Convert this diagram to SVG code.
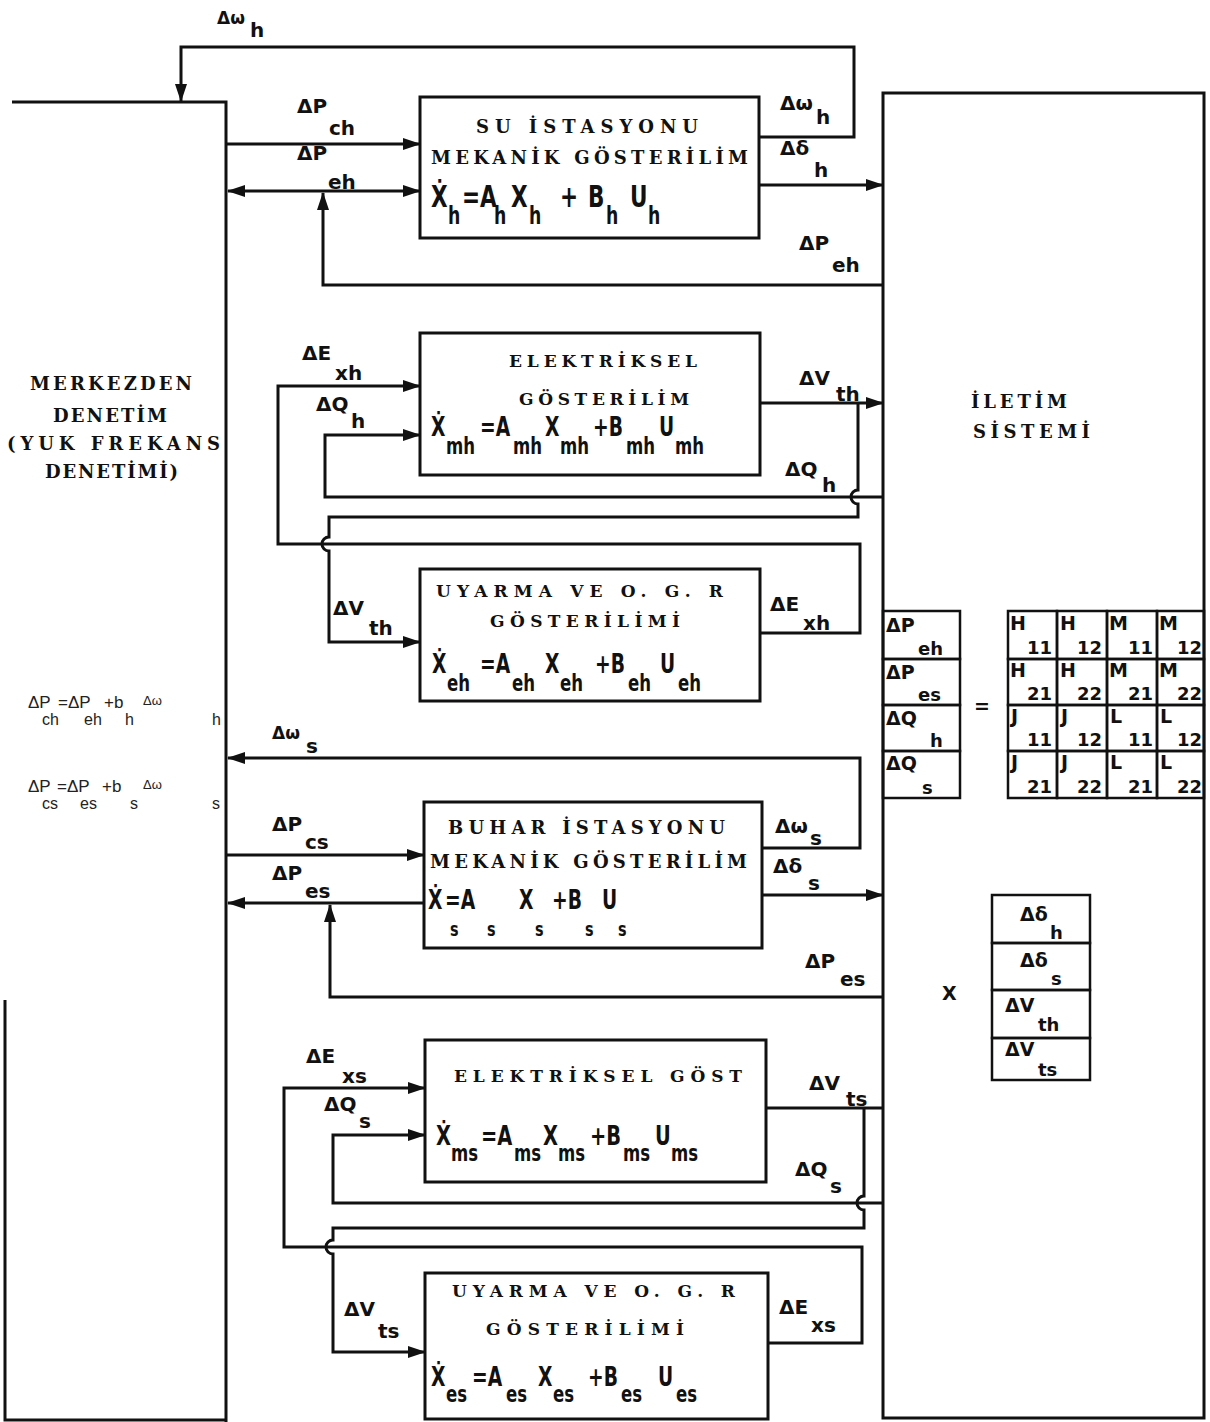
<svg xmlns="http://www.w3.org/2000/svg" width="1210" height="1422" viewBox="0 0 1210 1422">
<defs>
<marker id="ah" viewBox="0 0 18 12" refX="17" refY="6" markerWidth="18" markerHeight="12" markerUnits="userSpaceOnUse" orient="auto-start-reverse">
<path d="M0,0 L18,6 L0,12 z" fill="#111"/>
</marker>
<style>
.box{fill:none;stroke:#111;stroke-width:3}
.ln{fill:none;stroke:#111;stroke-width:3;stroke-linejoin:miter}
.cell{fill:none;stroke:#111;stroke-width:2.5}
.t{font-family:"DejaVu Serif","Liberation Serif",serif;font-weight:bold;font-size:17px;fill:#111}
.tb{font-size:18px}
.tl{font-size:18px}
.lb{font-family:"DejaVu Sans","Liberation Sans",sans-serif;font-weight:bold;font-size:20px;fill:#111}
.eq{font-family:"DejaVu Sans","Liberation Sans",sans-serif;font-weight:bold;font-size:26px;fill:#111}
.sb{font-size:23px}
.le{font-family:"Liberation Sans","DejaVu Sans",sans-serif;font-size:17px;fill:#222}
.le2{font-size:13px}
.ls{font-size:16px}
.mx{font-family:"DejaVu Sans","Liberation Sans",sans-serif;font-weight:bold;font-size:19px;fill:#111}
.mxs{font-size:18px}
</style>
</defs>
<rect width="1210" height="1422" fill="#fff"/>

<g id="merkezden-denetim">
<path class="ln" d="M12,102 H226 V1422"/>
<path class="ln" d="M5,1000 V1420 H226"/>
<text class="t tl" x="30" y="390" textLength="162" lengthAdjust="spacing">MERKEZDEN</text>
<text class="t tl" x="53" y="422" textLength="114" lengthAdjust="spacing">DENETİM</text>
<text class="t tl" x="7" y="450" textLength="213" lengthAdjust="spacing">(YUK FREKANS</text>
<text class="t tl" x="45" y="478" textLength="133" lengthAdjust="spacing">DENETİMİ)</text>
<text class="le"><tspan x="28" y="708">ΔP</tspan><tspan class="ls" x="42" y="725">ch</tspan><tspan x="58" y="708">=ΔP</tspan><tspan class="ls" x="84" y="725">eh</tspan><tspan x="104" y="708">+b</tspan><tspan class="ls" x="125" y="725">h</tspan><tspan class="le2" x="143" y="705">Δω</tspan><tspan class="ls" x="212" y="725">h</tspan></text>
<text class="le"><tspan x="28" y="792">ΔP</tspan><tspan class="ls" x="42" y="809">cs</tspan><tspan x="57" y="792">=ΔP</tspan><tspan class="ls" x="80" y="809">es</tspan><tspan x="102" y="792">+b</tspan><tspan class="ls" x="130" y="809">s</tspan><tspan class="le2" x="143" y="789">Δω</tspan><tspan class="ls" x="212" y="809">s</tspan></text>
</g>

<g id="iletim-sistemi">
<rect class="box" x="883" y="93" width="321" height="1325"/>
<text class="t tl" x="971" y="408" textLength="96" lengthAdjust="spacing">İLETİM</text>
<text class="t tl" x="973" y="438" textLength="117" lengthAdjust="spacing">SİSTEMİ</text>
</g>

<g id="su-istasyonu">
<rect class="box" x="420" y="97" width="339" height="141"/>
<text class="t tb" x="476" y="133" textLength="222" lengthAdjust="spacing">SU İSTASYONU</text>
<text class="t tb" x="431" y="164" textLength="317" lengthAdjust="spacing">MEKANİK GÖSTERİLİM</text>
<text class="eq" style="font-size:30px" transform="translate(431,0) scale(0.72,1)"><tspan x="0" y="207">Ẋ</tspan><tspan style="font-size:24px" x="23.6" y="224">h</tspan><tspan x="43.1" y="207">=A</tspan><tspan style="font-size:24px" x="87.5" y="224">h</tspan><tspan x="111.1" y="207">X</tspan><tspan style="font-size:24px" x="136.1" y="224">h</tspan><tspan x="179.2" y="207">+</tspan><tspan x="218.1" y="207">B</tspan><tspan style="font-size:24px" x="243.1" y="224">h</tspan><tspan x="276.4" y="207">U</tspan><tspan style="font-size:24px" x="301.4" y="224">h</tspan></text>
</g>

<g id="elektriksel-h">
<rect class="box" x="420" y="333" width="340" height="142"/>
<text class="t" x="509" y="367" textLength="188" lengthAdjust="spacing">ELEKTRİKSEL</text>
<text class="t" x="519" y="405" textLength="170" lengthAdjust="spacing">GÖSTERİLİM</text>
<text class="eq" transform="translate(431,0) scale(0.72,1)"><tspan x="0" y="436">Ẋ</tspan><tspan class="sb" x="20.8" y="454">mh</tspan><tspan x="68.1" y="436">=A</tspan><tspan class="sb" x="113.9" y="454">mh</tspan><tspan x="158.3" y="436">X</tspan><tspan class="sb" x="179.2" y="454">mh</tspan><tspan x="225" y="436">+B</tspan><tspan class="sb" x="270.8" y="454">mh</tspan><tspan x="316.7" y="436">U</tspan><tspan class="sb" x="338.9" y="454">mh</tspan></text>
</g>

<g id="uyarma-h">
<rect class="box" x="420" y="569" width="340" height="132"/>
<text class="t" x="436" y="597" textLength="287" lengthAdjust="spacing">UYARMA VE O. G. R</text>
<text class="t" x="490" y="627" textLength="190" lengthAdjust="spacing">GÖSTERİLİMİ</text>
<text class="eq" transform="translate(432,0) scale(0.72,1)"><tspan x="0" y="673">Ẋ</tspan><tspan class="sb" x="20.8" y="691">eh</tspan><tspan x="66.7" y="673">=A</tspan><tspan class="sb" x="111.1" y="691">eh</tspan><tspan x="156.9" y="673">X</tspan><tspan class="sb" x="177.8" y="691">eh</tspan><tspan x="226.4" y="673">+B</tspan><tspan class="sb" x="272.2" y="691">eh</tspan><tspan x="316.7" y="673">U</tspan><tspan class="sb" x="341.7" y="691">eh</tspan></text>
</g>

<g id="buhar-istasyonu">
<rect class="box" x="424" y="802" width="338" height="146"/>
<text class="t tb" x="448" y="834" textLength="277" lengthAdjust="spacing">BUHAR İSTASYONU</text>
<text class="t tb" x="430" y="868" textLength="317" lengthAdjust="spacing">MEKANİK GÖSTERİLİM</text>
<text class="eq" transform="translate(428,0) scale(0.72,1)"><tspan x="0" y="909">Ẋ</tspan><tspan style="font-size:20px" x="30.6" y="936">s</tspan><tspan x="23.6" y="909">=A</tspan><tspan style="font-size:20px" x="81.9" y="936">s</tspan><tspan x="126.4" y="909">X</tspan><tspan style="font-size:20px" x="148.6" y="936">s</tspan><tspan x="172.2" y="909">+B</tspan><tspan style="font-size:20px" x="218.1" y="936">s</tspan><tspan x="241.7" y="909">U</tspan><tspan style="font-size:20px" x="263.9" y="936">s</tspan></text>
</g>

<g id="elektriksel-s">
<rect class="box" x="425" y="1040" width="341" height="142"/>
<text class="t" x="454" y="1082" textLength="288" lengthAdjust="spacing">ELEKTRİKSEL GÖST</text>
<text class="eq" style="font-size:27px" transform="translate(436,0) scale(0.72,1)"><tspan x="0" y="1145">Ẋ</tspan><tspan class="sb" x="20.8" y="1161">ms</tspan><tspan x="62.5" y="1145">=A</tspan><tspan class="sb" x="108.3" y="1161">ms</tspan><tspan x="148.6" y="1145">X</tspan><tspan class="sb" x="169.4" y="1161">ms</tspan><tspan x="213.9" y="1145">+B</tspan><tspan class="sb" x="259.7" y="1161">ms</tspan><tspan x="304.2" y="1145">U</tspan><tspan class="sb" x="326.4" y="1161">ms</tspan></text>
</g>

<g id="uyarma-s">
<rect class="box" x="425" y="1273" width="343" height="146"/>
<text class="t" x="452" y="1297" textLength="283" lengthAdjust="spacing">UYARMA VE O. G. R</text>
<text class="t" x="486" y="1335" textLength="198" lengthAdjust="spacing">GÖSTERİLİMİ</text>
<text class="eq" transform="translate(431,0) scale(0.72,1)"><tspan x="0" y="1386">Ẋ</tspan><tspan class="sb" x="20.8" y="1402">es</tspan><tspan x="56.9" y="1386">=A</tspan><tspan class="sb" x="104.2" y="1402">es</tspan><tspan x="148.6" y="1386">X</tspan><tspan class="sb" x="169.4" y="1402">es</tspan><tspan x="218.1" y="1386">+B</tspan><tspan class="sb" x="263.9" y="1402">es</tspan><tspan x="315.3" y="1386">U</tspan><tspan class="sb" x="340.3" y="1402">es</tspan></text>
</g>

<g id="vector-pq">
<rect class="cell" x="883" y="611" width="77" height="48"/>
<rect class="cell" x="883" y="659" width="77" height="46"/>
<rect class="cell" x="883" y="705" width="77" height="46"/>
<rect class="cell" x="883" y="751" width="77" height="47"/>
<text class="mx"><tspan x="886" y="632">ΔP</tspan><tspan class="mxs" x="918" y="655">eh</tspan></text>
<text class="mx"><tspan x="886" y="679">ΔP</tspan><tspan class="mxs" x="918" y="701">es</tspan></text>
<text class="mx"><tspan x="886" y="725">ΔQ</tspan><tspan class="mxs" x="930" y="747">h</tspan></text>
<text class="mx"><tspan x="886" y="770">ΔQ</tspan><tspan class="mxs" x="922" y="794">s</tspan></text>
<text class="mx" x="974" y="713">=</text>
</g>

<g id="matrix">
<rect class="cell" x="1008" y="611" width="49" height="48"/>
<rect class="cell" x="1057" y="611" width="50" height="48"/>
<rect class="cell" x="1107" y="611" width="50" height="48"/>
<rect class="cell" x="1157" y="611" width="47" height="48"/>
<rect class="cell" x="1008" y="659" width="49" height="46"/>
<rect class="cell" x="1057" y="659" width="50" height="46"/>
<rect class="cell" x="1107" y="659" width="50" height="46"/>
<rect class="cell" x="1157" y="659" width="47" height="46"/>
<rect class="cell" x="1008" y="705" width="49" height="46"/>
<rect class="cell" x="1057" y="705" width="50" height="46"/>
<rect class="cell" x="1107" y="705" width="50" height="46"/>
<rect class="cell" x="1157" y="705" width="47" height="46"/>
<rect class="cell" x="1008" y="751" width="49" height="47"/>
<rect class="cell" x="1057" y="751" width="50" height="47"/>
<rect class="cell" x="1107" y="751" width="50" height="47"/>
<rect class="cell" x="1157" y="751" width="47" height="47"/>
<text class="mx"><tspan x="1010" y="630">H</tspan><tspan class="mxs" x="1027" y="654">11</tspan></text>
<text class="mx"><tspan x="1060" y="630">H</tspan><tspan class="mxs" x="1077" y="654">12</tspan></text>
<text class="mx"><tspan x="1109" y="630">M</tspan><tspan class="mxs" x="1128" y="654">11</tspan></text>
<text class="mx"><tspan x="1159" y="630">M</tspan><tspan class="mxs" x="1177" y="654">12</tspan></text>
<text class="mx"><tspan x="1010" y="677">H</tspan><tspan class="mxs" x="1027" y="700">21</tspan></text>
<text class="mx"><tspan x="1060" y="677">H</tspan><tspan class="mxs" x="1077" y="700">22</tspan></text>
<text class="mx"><tspan x="1109" y="677">M</tspan><tspan class="mxs" x="1128" y="700">21</tspan></text>
<text class="mx"><tspan x="1159" y="677">M</tspan><tspan class="mxs" x="1177" y="700">22</tspan></text>
<text class="mx"><tspan x="1011" y="723">J</tspan><tspan class="mxs" x="1027" y="746">11</tspan></text>
<text class="mx"><tspan x="1061" y="723">J</tspan><tspan class="mxs" x="1077" y="746">12</tspan></text>
<text class="mx"><tspan x="1110" y="723">L</tspan><tspan class="mxs" x="1128" y="746">11</tspan></text>
<text class="mx"><tspan x="1160" y="723">L</tspan><tspan class="mxs" x="1177" y="746">12</tspan></text>
<text class="mx"><tspan x="1011" y="769">J</tspan><tspan class="mxs" x="1027" y="793">21</tspan></text>
<text class="mx"><tspan x="1061" y="769">J</tspan><tspan class="mxs" x="1077" y="793">22</tspan></text>
<text class="mx"><tspan x="1110" y="769">L</tspan><tspan class="mxs" x="1128" y="793">21</tspan></text>
<text class="mx"><tspan x="1160" y="769">L</tspan><tspan class="mxs" x="1177" y="793">22</tspan></text>
</g>

<g id="vector-dv">
<text class="mx" x="942" y="1000">X</text>
<rect class="cell" x="992" y="895" width="98" height="48"/>
<rect class="cell" x="992" y="943" width="98" height="47"/>
<rect class="cell" x="992" y="990" width="98" height="48"/>
<rect class="cell" x="992" y="1038" width="98" height="42"/>
<text class="mx"><tspan x="1020" y="921">Δδ</tspan><tspan class="mxs" x="1050" y="939">h</tspan></text>
<text class="mx"><tspan x="1020" y="967">Δδ</tspan><tspan class="mxs" x="1051" y="985">s</tspan></text>
<text class="mx"><tspan x="1005" y="1012">ΔV</tspan><tspan class="mxs" x="1038" y="1031">th</tspan></text>
<text class="mx"><tspan x="1005" y="1056">ΔV</tspan><tspan class="mxs" x="1038" y="1076">ts</tspan></text>
</g>

<g id="connectors">
<path class="ln" d="M759,137 H854 V47 H181 V101" marker-end="url(#ah)"/>
<path class="ln" d="M226,144 H420" marker-end="url(#ah)"/>
<path class="ln" d="M228,191 H420" marker-start="url(#ah)" marker-end="url(#ah)"/>
<path class="ln" d="M883,285 H323 V193" marker-end="url(#ah)"/>
<path class="ln" d="M759,185 H883" marker-end="url(#ah)"/>

<path class="ln" d="M760,633 H860 V544 H278 V386 H420" marker-end="url(#ah)"/>
<path class="ln" d="M883,497 H325 V435 H420" marker-end="url(#ah)"/>
<path class="ln" d="M760,403 H883" marker-end="url(#ah)"/>
<path class="ln" d="M858,403 V490 A7,7 0 0 0 858,504 V517 H329 V537 A7,7 0 0 0 329,551 V642 H420" marker-end="url(#ah)"/>

<path class="ln" d="M762,848 H860 V758 H228" marker-end="url(#ah)"/>
<path class="ln" d="M226,855 H424" marker-end="url(#ah)"/>
<path class="ln" d="M424,903 H228" marker-end="url(#ah)"/>
<path class="ln" d="M883,997 H330 V905" marker-end="url(#ah)"/>
<path class="ln" d="M762,895 H883" marker-end="url(#ah)"/>

<path class="ln" d="M768,1343 H862 V1247 H284 V1088 H425" marker-end="url(#ah)"/>
<path class="ln" d="M883,1203 H333 V1135 H425" marker-end="url(#ah)"/>
<path class="ln" d="M766,1108 H883"/>
<path class="ln" d="M864,1108 V1196 A7,7 0 0 0 864,1210 V1228 H333 V1240 A7,7 0 0 0 333,1254 V1352 H425" marker-end="url(#ah)"/>
</g>

<g id="labels">
<text class="lb"><tspan x="217" y="24" font-size="17">Δω</tspan><tspan x="250" y="37">h</tspan></text>
<text class="lb"><tspan x="297" y="113">ΔP</tspan><tspan x="329" y="135">ch</tspan></text>
<text class="lb"><tspan x="297" y="160">ΔP</tspan><tspan x="328" y="189">eh</tspan></text>
<text class="lb"><tspan x="780" y="110">Δω</tspan><tspan x="816" y="124">h</tspan></text>
<text class="lb"><tspan x="780" y="155">Δδ</tspan><tspan x="814" y="177">h</tspan></text>
<text class="lb"><tspan x="799" y="250">ΔP</tspan><tspan x="832" y="272">eh</tspan></text>

<text class="lb"><tspan x="302" y="360">ΔE</tspan><tspan x="335" y="380">xh</tspan></text>
<text class="lb"><tspan x="316" y="411">ΔQ</tspan><tspan x="351" y="428">h</tspan></text>
<text class="lb"><tspan x="799" y="385">ΔV</tspan><tspan x="836" y="401">th</tspan></text>
<text class="lb"><tspan x="785" y="476">ΔQ</tspan><tspan x="822" y="492">h</tspan></text>
<text class="lb"><tspan x="333" y="615">ΔV</tspan><tspan x="369" y="635">th</tspan></text>
<text class="lb"><tspan x="770" y="611">ΔE</tspan><tspan x="803" y="630">xh</tspan></text>

<text class="lb"><tspan x="272" y="739" font-size="17">Δω</tspan><tspan x="306" y="753">s</tspan></text>
<text class="lb"><tspan x="272" y="831">ΔP</tspan><tspan x="305" y="849">cs</tspan></text>
<text class="lb"><tspan x="272" y="880">ΔP</tspan><tspan x="305" y="898">es</tspan></text>
<text class="lb"><tspan x="775" y="833">Δω</tspan><tspan x="810" y="845">s</tspan></text>
<text class="lb"><tspan x="773" y="873">Δδ</tspan><tspan x="808" y="890">s</tspan></text>
<text class="lb"><tspan x="805" y="968">ΔP</tspan><tspan x="840" y="986">es</tspan></text>

<text class="lb"><tspan x="306" y="1063">ΔE</tspan><tspan x="342" y="1083">xs</tspan></text>
<text class="lb"><tspan x="324" y="1111">ΔQ</tspan><tspan x="359" y="1128">s</tspan></text>
<text class="lb"><tspan x="809" y="1090">ΔV</tspan><tspan x="846" y="1106">ts</tspan></text>
<text class="lb"><tspan x="795" y="1176">ΔQ</tspan><tspan x="830" y="1193">s</tspan></text>
<text class="lb"><tspan x="344" y="1316">ΔV</tspan><tspan x="378" y="1338">ts</tspan></text>
<text class="lb"><tspan x="779" y="1314">ΔE</tspan><tspan x="811" y="1332">xs</tspan></text>
</g>
</svg>
